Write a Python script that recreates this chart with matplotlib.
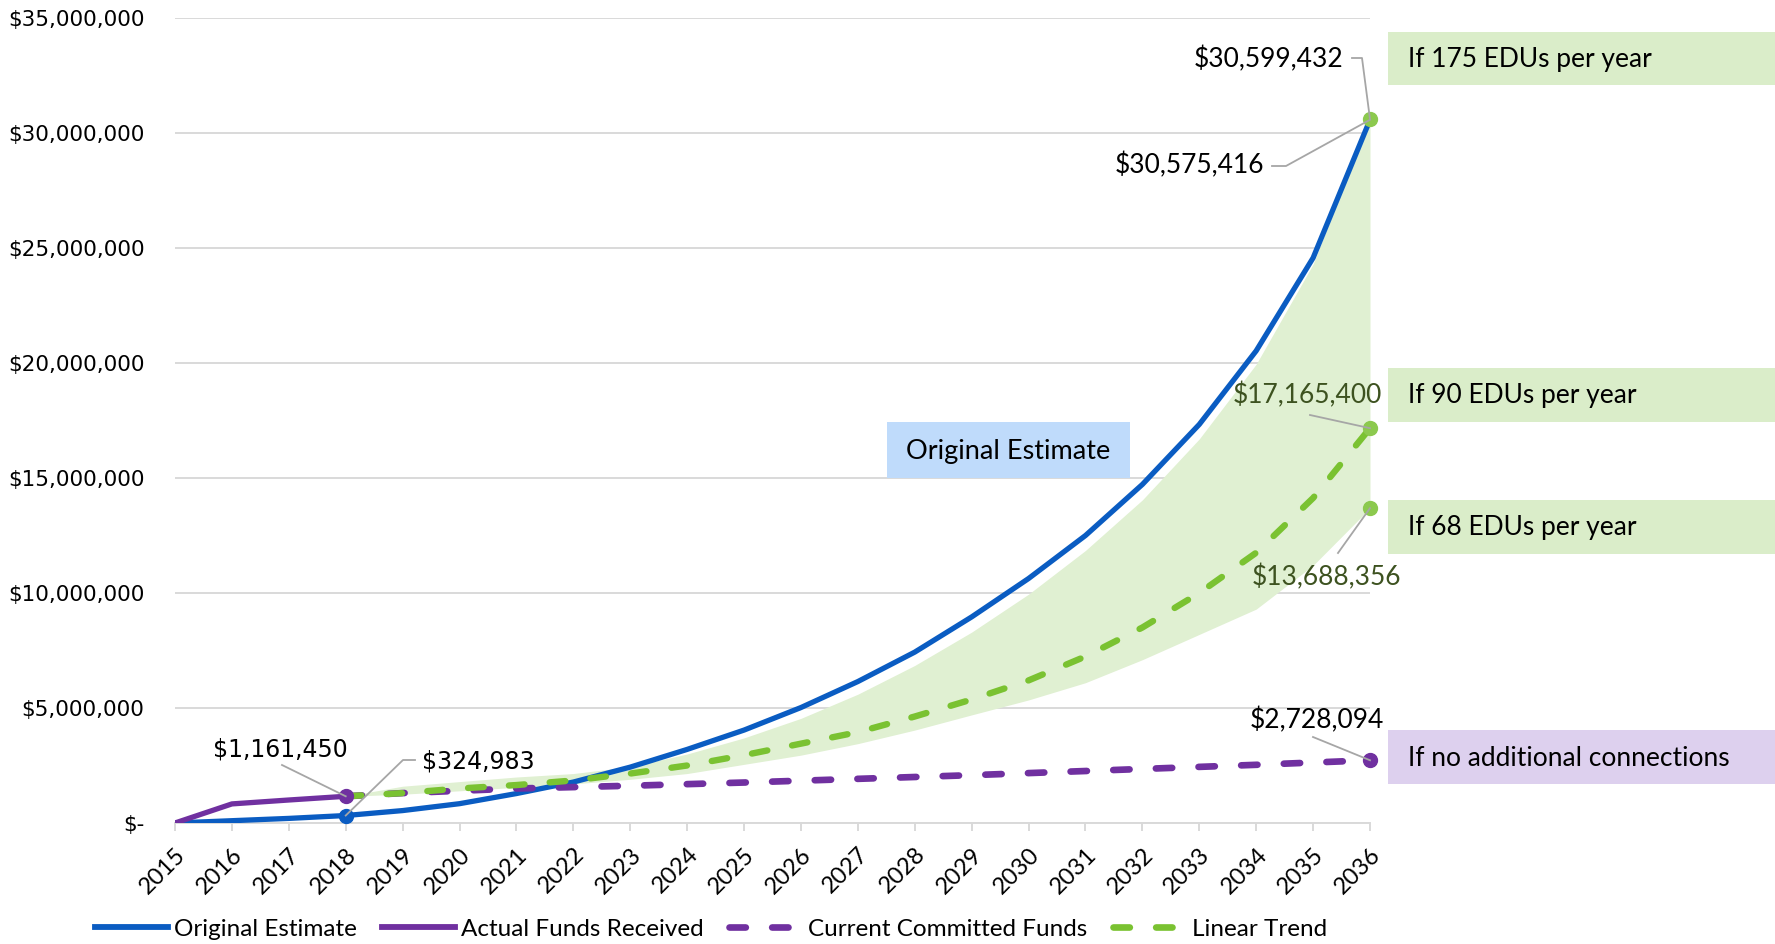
import matplotlib
matplotlib.use('Agg')
import matplotlib.pyplot as plt
from matplotlib.patches import Rectangle
from matplotlib.lines import Line2D

# ---------------- data ----------------
years = list(range(2015, 2037))
original_estimate = [0, 100000, 200000, 324983, 540000, 840000, 1280000, 1780000,
                     2430000, 3200000, 4040000, 5020000, 6150000, 7430000, 8960000,
                     10630000, 12500000, 14720000, 17330000, 20530000, 24570000, 30575416]
actual_years = [2015, 2016, 2017, 2018]
actual_funds = [0, 830000, 1000000, 1161450]

proj_years = list(range(2018, 2037))
committed_funds = [1161450, 1300000, 1400000, 1500000, 1560000, 1620000, 1690000, 1760000,
                   1840000, 1920000, 2000000, 2080000, 2170000, 2260000, 2350000, 2440000,
                   2530000, 2630000, 2728094]
linear_trend = [1161450, 1300000, 1500000, 1650000, 1850000, 2150000, 2500000, 2950000,
                3450000, 3950000, 4630000, 5370000, 6200000, 7240000, 8500000, 10000000,
                11750000, 14130000, 17165400]
edu_175 = [1161450, 1600000, 1800000, 2000000, 2150000, 2450000, 3000000, 3700000,
           4550000, 5600000, 6850000, 8300000, 9950000, 11850000, 14050000, 16700000,
           19950000, 24300000, 30599432]
edu_68 = [1161450, 1250000, 1400000, 1550000, 1700000, 1900000, 2150000, 2550000,
          2950000, 3450000, 4040000, 4700000, 5350000, 6100000, 7100000, 8200000,
          9300000, 11200000, 13688356]

y_ticks = [0, 5000000, 10000000, 15000000, 20000000, 25000000, 30000000, 35000000]
y_tick_labels = ["$-", "$5,000,000", "$10,000,000", "$15,000,000", "$20,000,000",
                 "$25,000,000", "$30,000,000", "$35,000,000"]
scenario_labels = ["If 175 EDUs per year", "If 90 EDUs per year",
                   "If 68 EDUs per year", "If no additional connections"]

# ---------------- style ----------------
BLUE = '#0a5cc2'
PURPLE = '#7030a0'
GREEN = '#7ac231'
GREEN_DOT = '#8cc94e'
AREA = '#e0f0d2'
BOX_GREEN = '#daedc9'
BOX_PURPLE = '#ddd0ee'
BOX_BLUE = '#bfdbfb'
GRID = '#d9d9d9'
LEADER = '#a6a6a6'
DKGREEN = '#3d5220'
CAL = ['Lato', 'DejaVu Sans']
DASH = (0, (2.45, 3.95))

W, H = 1775, 944
fig = plt.figure(figsize=(W / 100, H / 100), dpi=100)
ax = fig.add_axes([175 / W, 1 - 823 / H, (1370 - 175) / W, (823 - 18) / H])


def fp(x, y):
    return (x / W, 1 - y / H)


ax.set_xlim(2015, 2036)
ax.set_ylim(0, 35000000)

ax.fill_between(proj_years, edu_68, edu_175, color=AREA, lw=0, zorder=1)

ax.plot(years, original_estimate, color=BLUE, lw=3.8, zorder=3, solid_capstyle='round')
ax.plot(actual_years, actual_funds, color=PURPLE, lw=3.8, zorder=4, solid_capstyle='round')
ax.plot(proj_years, committed_funds, color=PURPLE, lw=4.8, ls=DASH,
        dash_capstyle='round', zorder=4)
ax.plot(proj_years, linear_trend, color=GREEN, lw=4.6, ls=DASH,
        dash_capstyle='round', zorder=5)

# markers
ax.plot([2018], [actual_funds[-1]], 'o', color=PURPLE, ms=10, zorder=6, clip_on=False)
ax.plot([2018], [original_estimate[3]], 'o', color=BLUE, ms=10, zorder=6, clip_on=False)
ax.plot([2036], [edu_175[-1]], 'o', color=GREEN_DOT, ms=10, zorder=6, clip_on=False)
ax.plot([2036], [linear_trend[-1]], 'o', color=GREEN_DOT, ms=10, zorder=6, clip_on=False)
ax.plot([2036], [edu_68[-1]], 'o', color=GREEN_DOT, ms=10, zorder=6, clip_on=False)
ax.plot([2036], [committed_funds[-1]], 'o', color=PURPLE, ms=10, zorder=6, clip_on=False)

# axes styling
for s in ['left', 'right', 'top']:
    ax.spines[s].set_visible(False)
ax.spines['bottom'].set_color(GRID)
ax.spines['bottom'].set_linewidth(1.4)
ax.set_yticks(y_ticks)
ax.set_yticklabels(y_tick_labels, fontsize=15.5, family='DejaVu Sans')
ax.tick_params(axis='y', length=0, pad=22)
ax.yaxis.grid(True, color=GRID, lw=1.4)
ax.set_axisbelow(True)
ax.set_xticks(years)
ax.set_xticklabels([str(y) for y in years], rotation=45, ha='right',
                   rotation_mode='anchor', fontsize=17, family=CAL)
ax.tick_params(axis='x', length=6, width=1.4, color=GRID, pad=9)

# "Original Estimate" box
fig.add_artist(Rectangle(fp(887, 478), (1130 - 887) / W, (478 - 422) / H,
                         transform=fig.transFigure, color=BOX_BLUE, lw=0, zorder=2))
fig.text(*fp(1008, 451), "Original Estimate", ha='center', va='center',
         fontsize=19.5, family=CAL, zorder=3)

# right-hand scenario boxes
boxes = [(32, 85, BOX_GREEN), (368, 422, BOX_GREEN), (500, 554, BOX_GREEN),
         (730, 784, BOX_PURPLE)]
for (y1, y2, col), lab in zip(boxes, scenario_labels):
    fig.add_artist(Rectangle(fp(1388, y2), (W - 1388) / W, (y2 - y1) / H,
                             transform=fig.transFigure, color=col, lw=0))
    fig.text(*fp(1408, (y1 + y2) / 2 + 1), lab, ha='left', va='center',
             fontsize=19, family=CAL)


def leader(points_px, data_pt):
    fig.canvas.draw()
    dx, dy = ax.transData.transform(data_pt)
    xs = [p[0] for p in points_px] + [dx]
    ys = [H - p[1] for p in points_px] + [dy]
    fx = [x / W for x in xs]
    fy = [y / H for y in ys]
    fig.add_artist(Line2D(fx, fy, transform=fig.transFigure, color=LEADER, lw=1.3,
                          zorder=5))


# data labels
fig.text(*fp(280, 750), "$1,161,450", ha='center', va='center', fontsize=17,
         family='DejaVu Sans')
leader([(282, 765)], (2018, actual_funds[-1]))

fig.text(*fp(422, 762), "$324,983", ha='left', va='center', fontsize=17,
         family='DejaVu Sans')
leader([(415, 760), (403, 760)], (2018, original_estimate[3]))

fig.text(*fp(1343, 59), "$30,599,432", ha='right', va='center', fontsize=19, family=CAL)
leader([(1352, 58), (1362, 58)], (2036, edu_175[-1]))

fig.text(*fp(1264, 165), "$30,575,416", ha='right', va='center', fontsize=19, family=CAL)
leader([(1272, 166), (1286, 166)], (2036, original_estimate[-1]))

fig.text(*fp(1307, 395), "$17,165,400", ha='center', va='center', fontsize=19,
         family=CAL, color=DKGREEN)
leader([(1310, 415)], (2036, linear_trend[-1]))

fig.text(*fp(1326, 577), "$13,688,356", ha='center', va='center', fontsize=19,
         family=CAL, color=DKGREEN)
leader([(1338, 553)], (2036, edu_68[-1]))

fig.text(*fp(1317, 720), "$2,728,094", ha='center', va='center', fontsize=19, family=CAL)
leader([(1313, 737)], (2036, committed_funds[-1]))

# legend
handles = [Line2D([], [], color=BLUE, lw=4.2),
           Line2D([], [], color=PURPLE, lw=4.2),
           Line2D([], [], color=PURPLE, lw=4.8, ls=DASH, dash_capstyle='round'),
           Line2D([], [], color=GREEN, lw=4.8, ls=DASH, dash_capstyle='round')]
labels = ["Original Estimate", "Actual Funds Received", "Current Committed Funds",
          "Linear Trend"]
fig.legend(handles, labels, loc='center', bbox_to_anchor=fp(711, 929), ncol=4,
           frameon=False, prop={'family': CAL, 'size': 17.5}, handlelength=3.0,
           handletextpad=0.25, columnspacing=1.05)

fig.savefig('out.png', dpi=100)
